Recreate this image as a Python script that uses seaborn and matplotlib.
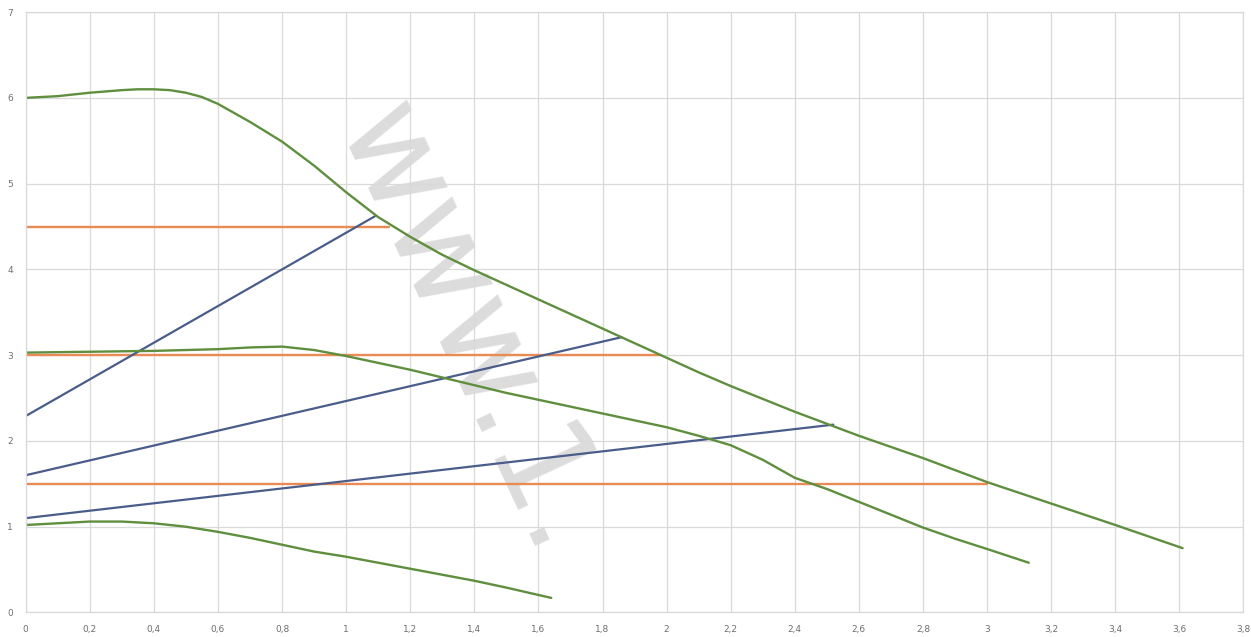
import numpy as np
import pandas as pd
import matplotlib
matplotlib.use("Agg")
import matplotlib.pyplot as plt
from matplotlib.ticker import FuncFormatter
import seaborn as sns

# ---- data ----
top_x = [0, 0.1, 0.2, 0.3, 0.35, 0.4, 0.45, 0.5, 0.55, 0.6, 0.7, 0.8, 0.9, 1.0, 1.1,
         1.2, 1.3, 1.4, 1.5, 1.6, 1.7, 1.8, 1.9, 2.0, 2.1, 2.2, 2.3, 2.4, 2.5, 2.6,
         2.7, 2.8, 2.9, 3.0, 3.2, 3.4, 3.61]
top_y = [6.00, 6.02, 6.06, 6.09, 6.10, 6.10, 6.09, 6.06, 6.01, 5.93, 5.72, 5.49, 5.21,
         4.90, 4.61, 4.38, 4.17, 3.99, 3.82, 3.65, 3.48, 3.31, 3.14, 2.97, 2.80, 2.64,
         2.49, 2.34, 2.20, 2.06, 1.93, 1.80, 1.66, 1.52, 1.27, 1.02, 0.75]

mid_x = [0, 0.2, 0.4, 0.6, 0.7, 0.8, 0.9, 1.0, 1.1, 1.2, 1.3, 1.4, 1.5, 1.6, 1.7, 1.8,
         1.9, 2.0, 2.1, 2.2, 2.3, 2.4, 2.5, 2.6, 2.7, 2.8, 2.9, 3.0, 3.13]
mid_y = [3.03, 3.04, 3.05, 3.07, 3.09, 3.10, 3.06, 2.99, 2.91, 2.83, 2.74, 2.65, 2.56,
         2.48, 2.40, 2.32, 2.24, 2.16, 2.06, 1.95, 1.78, 1.57, 1.44, 1.29, 1.14, 0.99,
         0.86, 0.74, 0.58]

low_x = [0, 0.1, 0.2, 0.3, 0.4, 0.5, 0.6, 0.7, 0.8, 0.9, 1.0, 1.1, 1.2, 1.3, 1.4, 1.5, 1.64]
low_y = [1.02, 1.04, 1.06, 1.06, 1.04, 1.00, 0.94, 0.87, 0.79, 0.71, 0.65, 0.58, 0.51,
         0.44, 0.37, 0.29, 0.17]

orange_levels = [4.5, 3.0, 1.5]
orange_ends = [1.135, 1.98, 3.0]

blue_starts = [2.29, 1.60, 1.10]
blue_end_x = [1.09, 1.86, 2.52]
blue_end_y = [4.62, 3.21, 2.19]

x_ticks = [round(0.2 * i, 1) for i in range(20)]
y_ticks = list(range(8))

GREEN = "#5f8f3e"
ORANGE = "#ea8a55"
BLUE = "#4a5d8a"
GRID = "#d9d9d9"

sns.set_theme(style="whitegrid")
plt.rcParams['font.family'] = ['DejaVu Sans']

fig = plt.figure(figsize=(12.51, 6.37), dpi=100)
ax = fig.add_axes([0.0205, 0.0385, 0.9735, 0.9425])
ax.set_zorder(1)
ax.patch.set_alpha(0)

# watermark
fig.text(0.267, 0.797, "www.1.", fontsize=95, color="#dcdcdc", rotation=-65,
         rotation_mode="anchor", ha="left", va="baseline", zorder=0)

# orange horizontal lines
for lvl, xe in zip(orange_levels, orange_ends):
    d = pd.DataFrame({"x": [0, xe], "y": [lvl, lvl]})
    sns.lineplot(data=d, x="x", y="y", ax=ax, color=ORANGE, linewidth=1.7,
                 estimator=None, sort=False)

# blue lines
for ys, xe, ye in zip(blue_starts, blue_end_x, blue_end_y):
    d = pd.DataFrame({"x": [0, xe], "y": [ys, ye]})
    sns.lineplot(data=d, x="x", y="y", ax=ax, color=BLUE, linewidth=1.6,
                 estimator=None, sort=False)

# green curves
for xs, ys in [(top_x, top_y), (mid_x, mid_y), (low_x, low_y)]:
    d = pd.DataFrame({"x": xs, "y": ys})
    sns.lineplot(data=d, x="x", y="y", ax=ax, color=GREEN, linewidth=1.7,
                 estimator=None, sort=False)

ax.set_xlim(0, 3.8)
ax.set_ylim(0, 7)
ax.set_xticks(x_ticks)
ax.set_yticks(y_ticks)
fmt = FuncFormatter(lambda v, p: f"{v:.1f}".rstrip("0").rstrip(".").replace(".", ","))
ax.xaxis.set_major_formatter(fmt)
ax.yaxis.set_major_formatter(FuncFormatter(lambda v, p: f"{int(v)}"))
ax.set_xlabel("")
ax.set_ylabel("")
ax.grid(True, color=GRID, linewidth=0.9)
for s in ax.spines.values():
    s.set_color(GRID)
    s.set_linewidth(0.9)
ax.tick_params(axis="both", length=0, labelsize=6.5, labelcolor="#6e6e6e")
ax.tick_params(axis="x", pad=9)
ax.tick_params(axis="y", pad=9)

fig.savefig("out.png", dpi=100, facecolor="white")
